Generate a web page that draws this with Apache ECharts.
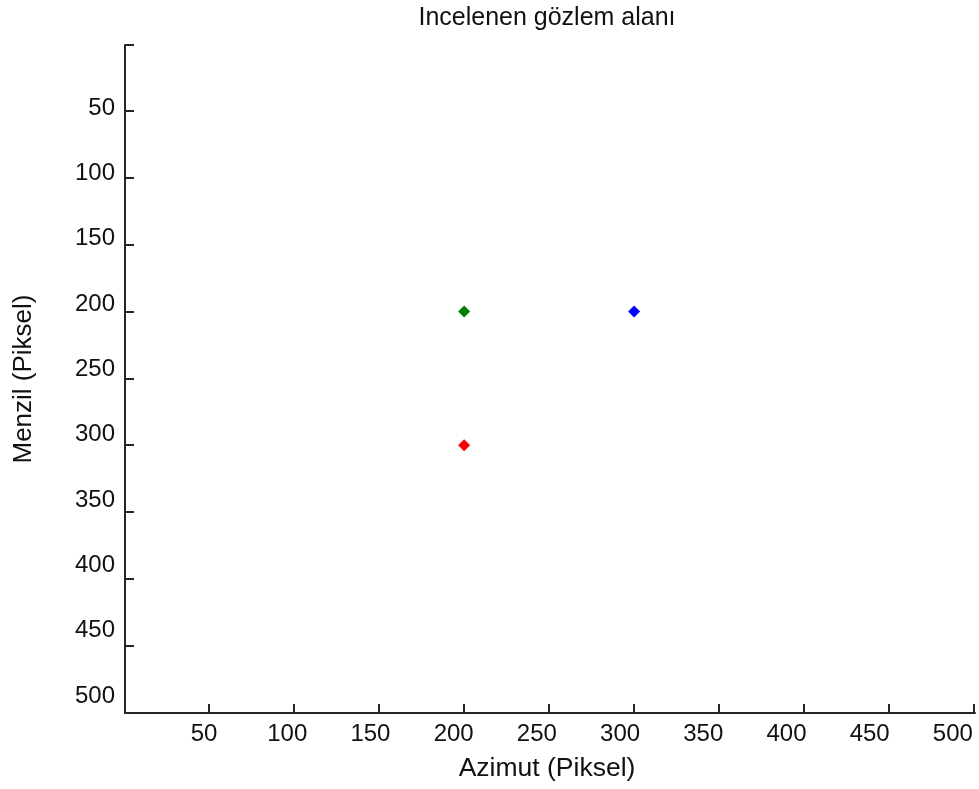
<!DOCTYPE html>
<html>
<head>
<meta charset="utf-8">
<script src="https://cdn.jsdelivr.net/npm/echarts@6/dist/echarts.min.js"></script>
<style>
html,body{margin:0;padding:0;background:#fff;}
#chart{width:979px;height:789px;}
</style>
</head>
<body>
<div id="chart"></div>
<script>
var titleText = 'Incelenen gözlem alanı';
var xAxisName = 'Azimut (Piksel)';
var yAxisName = 'Menzil (Piksel)';
var xTicks = [50, 100, 150, 200, 250, 300, 350, 400, 450, 500];
var yTicks = [50, 100, 150, 200, 250, 300, 350, 400, 450, 500];
var greenPoint = [[200, 200]];
var bluePoint = [[300, 200]];
var redPoint = [[200, 300]];

var font = '"Liberation Sans", Arial, sans-serif';
var axisColor = '#262626';
var textColor = '#111111';
var chart = echarts.init(document.getElementById('chart'), null, {renderer: 'canvas'});

function pointSeries(name, data, color) {
  return {
    name: name,
    type: 'scatter',
    data: data,
    xAxisIndex: 0,
    yAxisIndex: 0,
    symbol: 'diamond',
    symbolSize: 12,
    itemStyle: {color: color, opacity: 1},
    silent: true
  };
}

// Labels in the reference sit on a slightly compressed scale relative to the ticks
// (as in the exported original), so they are drawn by a label-only companion axis.
var labelAxisX = {
  type: 'value', position: 'bottom', min: 2.5, max: 513.3,
  axisLine: {show: false}, axisTick: {show: false}, splitLine: {show: false},
  axisLabel: {customValues: xTicks, margin: 9, fontFamily: font, fontSize: 24, color: textColor}
};
var labelAxisY = {
  type: 'value', position: 'left', inverse: true, min: 1.8, max: 512.9,
  axisLine: {show: false}, axisTick: {show: false}, splitLine: {show: false},
  axisLabel: {customValues: yTicks, margin: 10, fontFamily: font, fontSize: 24, color: textColor}
};

chart.setOption({
  animation: false,
  backgroundColor: '#ffffff',
  title: {
    text: titleText,
    left: 542,
    textAlign: 'center',
    top: 1,
    textStyle: {fontFamily: font, fontSize: 25, fontWeight: 'normal', color: textColor}
  },
  grid: {left: 125, right: 4, top: 45, bottom: 76, containLabel: false, outerBoundsMode: 'none'},
  xAxis: [{
    type: 'value',
    position: 'bottom',
    min: 0.5,
    max: 500.5,
    name: xAxisName,
    nameLocation: 'middle',
    nameGap: 42,
    nameTextStyle: {fontFamily: font, fontSize: 26.5, color: textColor, padding: [0, 6, 0, 0]},
    splitLine: {show: false},
    axisLine: {show: true, lineStyle: {color: axisColor, width: 2}},
    axisTick: {show: true, inside: true, length: 9, customValues: xTicks, lineStyle: {color: axisColor, width: 2}},
    axisLabel: {show: false}
  }, labelAxisX],
  yAxis: [{
    type: 'value',
    position: 'left',
    inverse: true,
    min: 0.5,
    max: 500.5,
    name: yAxisName,
    nameLocation: 'middle',
    nameGap: 88,
    nameRotate: 90,
    nameTextStyle: {fontFamily: font, fontSize: 26, color: textColor},
    splitLine: {show: false},
    axisLine: {show: true, lineStyle: {color: axisColor, width: 2}},
    axisTick: {show: true, inside: true, length: 9, customValues: [0.5].concat(yTicks), lineStyle: {color: axisColor, width: 2}},
    axisLabel: {show: false}
  }, labelAxisY],
  series: [
    pointSeries('green', greenPoint, '#008000'),
    pointSeries('blue', bluePoint, '#0000ff'),
    pointSeries('red', redPoint, '#ff0000')
  ]
});
</script>
</body>
</html>
